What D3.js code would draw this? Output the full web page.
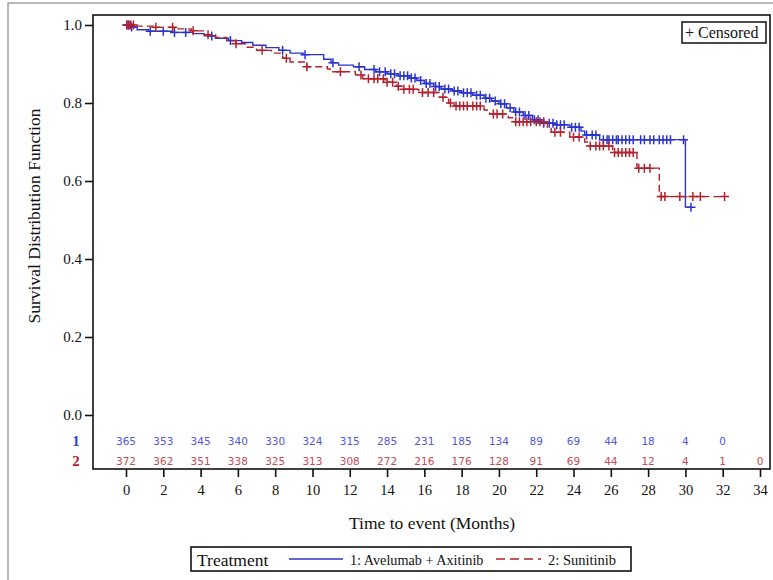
<!DOCTYPE html>
<html>
<head>
<meta charset="utf-8">
<script src="https://cdn.jsdelivr.net/npm/d3@7"></script>
<style>
  body { margin: 0; background: #fff; }
  svg text { font-family: "Liberation Serif", "DejaVu Serif", serif; }
</style>
</head>
<body>
<div class="chart"></div>
<script>
// step points of each Kaplan-Meier curve (time in months, survival)
const blueTimes = [0, 0.3, 0.6, 1.2, 2.5, 3.6, 4.2, 4.8, 5.5, 6.2, 6.8, 7.5, 8.2, 8.8, 9.5, 10.6, 11.0, 11.4, 12.2, 12.8, 13.4, 14.0, 14.6, 15.2, 15.6, 16.0, 16.5, 16.9, 17.5, 18.0, 18.6, 19.2, 19.6, 20.0, 20.4, 20.8, 21.3, 21.8, 22.3, 23.0, 23.8, 24.4, 24.6, 25.4, 30.0];
const blueSurv  = [1.0, 0.995, 0.988, 0.984, 0.981, 0.978, 0.972, 0.966, 0.960, 0.955, 0.948, 0.942, 0.935, 0.928, 0.924, 0.912, 0.903, 0.897, 0.893, 0.886, 0.880, 0.875, 0.870, 0.864, 0.858, 0.850, 0.842, 0.836, 0.831, 0.826, 0.820, 0.812, 0.805, 0.798, 0.788, 0.777, 0.768, 0.757, 0.748, 0.744, 0.738, 0.728, 0.718, 0.706, 0.533];
const blueCensor = [0.05, 0.15, 0.3, 1.3, 2.0, 2.6, 3.2, 4.6, 5.6, 8.4, 9.6, 11.1, 12.5, 13.3, 13.6, 13.9, 14.2, 14.4, 14.7, 14.9, 15.1, 15.3, 15.5, 15.8, 16.1, 16.3, 16.6, 16.8, 17.1, 17.3, 17.6, 17.8, 18.1, 18.3, 18.5, 18.8, 19.0, 19.3, 19.5, 19.8, 20.1, 20.3, 20.6, 20.9, 21.1, 21.4, 21.6, 21.9, 22.1, 22.4, 22.7, 22.9, 23.1, 23.3, 23.5, 23.9, 24.1, 24.3, 24.7, 25.0, 25.2, 25.6, 25.8, 25.9, 26.1, 26.3, 26.4, 26.6, 26.8, 27.0, 27.2, 27.6, 27.8, 28.1, 28.3, 28.6, 28.8, 29.0, 29.2, 29.9, 30.3];

const redTimes = [0, 0.5, 1.5, 2.8, 3.5, 4.2, 4.8, 5.4, 5.9, 6.5, 7.0, 7.8, 8.4, 8.8, 9.7, 10.8, 11.0, 12.3, 12.7, 13.9, 14.5, 14.8, 15.7, 16.8, 17.3, 17.6, 19.2, 19.5, 20.5, 20.8, 22.6, 22.8, 23.8, 24.6, 24.8, 26.1, 27.4, 28.6];
const redSurv  = [1.0, 0.997, 0.994, 0.990, 0.985, 0.975, 0.968, 0.960, 0.952, 0.943, 0.935, 0.928, 0.915, 0.905, 0.893, 0.887, 0.880, 0.872, 0.862, 0.853, 0.843, 0.835, 0.827, 0.815, 0.800, 0.792, 0.782, 0.772, 0.762, 0.752, 0.738, 0.725, 0.713, 0.700, 0.690, 0.673, 0.633, 0.560];
const redCensor = [0.05, 0.15, 0.25, 0.4, 1.6, 2.5, 3.6, 4.4, 5.9, 7.3, 8.6, 9.7, 11.5, 12.6, 13.0, 13.3, 13.5, 13.8, 14.0, 14.3, 14.6, 14.9, 15.2, 15.4, 15.9, 16.2, 16.5, 17.0, 17.4, 17.7, 17.9, 18.1, 18.3, 18.6, 18.8, 19.0, 19.7, 19.9, 20.2, 20.9, 21.1, 21.3, 21.5, 21.7, 22.0, 22.2, 22.4, 23.0, 23.3, 24.0, 24.3, 24.9, 25.2, 25.4, 25.6, 25.9, 26.2, 26.4, 26.6, 26.8, 27.0, 27.2, 27.5, 27.8, 28.1, 28.7, 28.9, 29.7, 30.4, 30.8, 32.1];

// numbers at risk
const riskTimes = [0, 2, 4, 6, 8, 10, 12, 14, 16, 18, 20, 22, 24, 26, 28, 30, 32, 34];
const blueRisk = [365, 353, 345, 340, 330, 324, 315, 285, 231, 185, 134, 89, 69, 44, 18, 4, 0];
const redRisk  = [372, 362, 351, 338, 325, 313, 308, 272, 216, 176, 128, 91, 69, 44, 12, 4, 1, 0];

const xTicks = [0, 2, 4, 6, 8, 10, 12, 14, 16, 18, 20, 22, 24, 26, 28, 30, 32, 34];
const yTicks = [0, 0.2, 0.4, 0.6, 0.8, 1.0];
const groupLabels = ["1: Avelumab + Axitinib", "2: Sunitinib"];

const blueCol = "#2b34cc";
const redCol = "#b3202c";
const blueText = "#5258d6";
const redText = "#c84a56";

const width = 773, height = 580;
const frame = { left: 93, top: 15, right: 770, bottom: 469 };

const svg = d3.select(".chart").append("svg")
    .attr("width", width)
    .attr("height", height);

// outer gray border
svg.append("rect")
    .attr("x", 8).attr("y", 3)
    .attr("width", 800).attr("height", 600)
    .attr("fill", "none")
    .attr("stroke", "#8a8a8a")
    .attr("stroke-width", 1.2);

const x = d3.scaleLinear().domain([0, 34]).range([126, 760]);
const y = d3.scaleLinear().domain([0, 1]).range([415, 25]);

// plot frame
svg.append("rect")
    .attr("x", frame.left).attr("y", frame.top)
    .attr("width", frame.right - frame.left)
    .attr("height", frame.bottom - frame.top)
    .attr("fill", "none")
    .attr("stroke", "#111")
    .attr("stroke-width", 1.6);

const yAxis = svg.append("g")
    .attr("transform", `translate(${frame.left},0)`)
    .call(d3.axisLeft(y).tickValues(yTicks).tickFormat(d3.format(".1f")).tickSize(8).tickPadding(3));
yAxis.select(".domain").remove();
yAxis.selectAll("line").attr("stroke", "#111").attr("stroke-width", 1.6);
yAxis.selectAll("text").attr("font-size", 15).attr("fill", "#111")
    .style("font-family", "'Liberation Serif', serif");

const xAxis = svg.append("g")
    .attr("transform", `translate(0,${frame.bottom})`)
    .call(d3.axisBottom(x).tickValues(xTicks).tickSize(8).tickPadding(8));
xAxis.select(".domain").remove();
xAxis.selectAll("line").attr("stroke", "#111").attr("stroke-width", 1.6);
xAxis.selectAll("text").attr("font-size", 14.5).attr("fill", "#111")
    .style("font-family", "'Liberation Serif', serif");

svg.append("text")
    .attr("transform", "translate(40,216) rotate(-90)")
    .attr("text-anchor", "middle")
    .attr("font-size", 17.5)
    .attr("fill", "#111")
    .text("Survival Distribution Function");

svg.append("text")
    .attr("x", 432).attr("y", 529)
    .attr("text-anchor", "middle")
    .attr("font-size", 17.5)
    .attr("fill", "#111")
    .text("Time to event (Months)");

// Kaplan-Meier curves
const curves = [
    { times: blueTimes, surv: blueSurv, censor: blueCensor, color: blueCol, dash: null },
    { times: redTimes, surv: redSurv, censor: redCensor, color: redCol, dash: "7,4" },
];

const survAt = (c, t) => c.surv[d3.bisectRight(c.times, t) - 1];

const line = d3.line()
    .x(d => x(d[0]))
    .y(d => y(d[1]))
    .curve(d3.curveStepAfter);

curves.forEach(c => {
    const pts = c.times.map((t, i) => [t, c.surv[i]]);
    const end = d3.max(c.censor);
    pts.push([end, survAt(c, end)]);
    svg.append("path")
        .attr("d", line(pts))
        .attr("fill", "none")
        .attr("stroke", c.color)
        .attr("stroke-width", 1.4)
        .attr("stroke-dasharray", c.dash);

    svg.append("g").selectAll("path")
        .data(c.censor).enter()
        .append("path")
        .attr("transform", t => `translate(${x(t)},${y(survAt(c, t))})`)
        .attr("d", "M-4.5,0H4.5M0,-4.5V4.5")
        .attr("stroke", c.color)
        .attr("stroke-width", 1.5);
});

// numbers at risk
svg.append("text").attr("x", 76).attr("y", 446).attr("text-anchor", "middle")
    .attr("font-size", 15).attr("font-weight", "bold").attr("fill", "#3b42c8").text("1");
svg.append("text").attr("x", 76).attr("y", 466).attr("text-anchor", "middle")
    .attr("font-size", 15).attr("font-weight", "bold").attr("fill", redCol).text("2");

[[blueRisk, 441, blueText], [redRisk, 461, redText]].forEach(([vals, yy, col]) => {
    svg.append("g").selectAll("text")
        .data(vals).enter()
        .append("text")
        .attr("x", (_, i) => x(riskTimes[i]))
        .attr("y", yy)
        .attr("dy", "0.35em")
        .attr("text-anchor", "middle")
        .attr("font-size", 10.5)
        .style("font-family", "'DejaVu Sans', sans-serif")
        .attr("fill", col)
        .text(d => d);
});

// censored legend
svg.append("rect")
    .attr("x", 682).attr("y", 22).attr("width", 84).attr("height", 21)
    .attr("fill", "#fff").attr("stroke", "#111").attr("stroke-width", 1.5);
svg.append("text")
    .attr("x", 685).attr("y", 38)
    .attr("font-size", 16).attr("fill", "#111")
    .text("+ Censored");

// treatment legend
const lg = svg.append("g");
lg.append("rect")
    .attr("x", 191).attr("y", 547).attr("width", 440).attr("height", 24)
    .attr("fill", "#fff").attr("stroke", "#111").attr("stroke-width", 1.6);
lg.append("text").attr("x", 197).attr("y", 566).attr("font-size", 17.5).attr("fill", "#111").text("Treatment");
lg.append("line").attr("x1", 289).attr("x2", 343).attr("y1", 559).attr("y2", 559)
    .attr("stroke", blueCol).attr("stroke-width", 1.4);
lg.append("text").attr("x", 350).attr("y", 564.5).attr("font-size", 14.2).attr("fill", "#111").text(groupLabels[0]);
lg.append("line").attr("x1", 496).attr("x2", 541).attr("y1", 559).attr("y2", 559)
    .attr("stroke", redCol).attr("stroke-width", 1.4).attr("stroke-dasharray", "9,5");
lg.append("text").attr("x", 548).attr("y", 564.5).attr("font-size", 14.5).attr("fill", "#111").text(groupLabels[1]);
</script>
</body>
</html>
